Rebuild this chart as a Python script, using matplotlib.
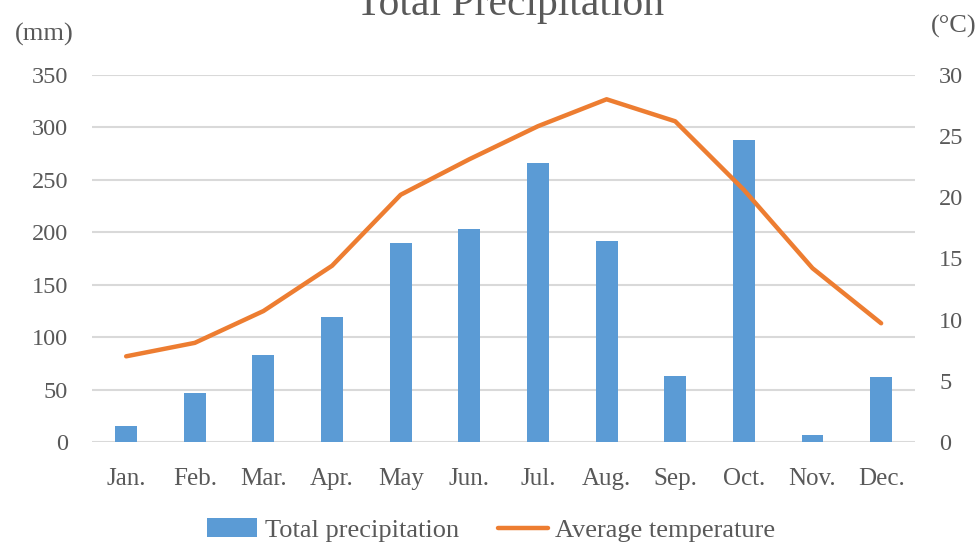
import matplotlib
matplotlib.use("Agg")
import matplotlib.pyplot as plt
import numpy as np

months = ["Jan.", "Feb.", "Mar.", "Apr.", "May", "Jun.", "Jul.", "Aug.", "Sep.", "Oct.", "Nov.", "Dec."]
precip = [15, 47, 83, 119, 190, 203, 266, 192, 63, 288, 7, 62]
temp = [7.0, 8.1, 10.7, 14.4, 20.2, 23.1, 25.8, 28.0, 26.2, 20.6, 14.2, 9.7]
left_ticks = [0, 50, 100, 150, 200, 250, 300, 350]
right_ticks = [0, 5, 10, 15, 20, 25, 30]

plt.rcParams['font.family'] = ['Liberation Serif', 'DejaVu Serif']
TXT = '#595959'
FS = 18

fig = plt.figure(figsize=(9.77, 5.42), dpi=100)
ax = fig.add_axes([0.094, 0.1845, 0.843, 0.6775])
ax2 = ax.twinx()

x = np.arange(len(months))
ax.bar(x, precip, width=0.32, color='#5b9bd5', label='Total precipitation', zorder=3)
ax2.plot(x, temp, color='#ed7d31', lw=3.2, solid_capstyle='round', solid_joinstyle='round',
         label='Average temperature', zorder=4)

ax.set_xlim(-0.5, 11.5)
ax.set_ylim(0, 350)
ax2.set_ylim(0, 30)
ax.set_yticks(left_ticks)
ax2.set_yticks(right_ticks)
ax.set_xticks(x)
ax.set_xticklabels(months)
for a in (ax, ax2):
    for s in a.spines.values():
        s.set_visible(False)
    a.tick_params(length=0, labelsize=FS, colors=TXT)
ax.tick_params(axis='y', labelsize=17.5, pad=17)
ax2.tick_params(axis='y', labelsize=17.5, pad=17)
ax.tick_params(axis='x', pad=19)
ax.yaxis.grid(True, color='#d9d9d9', lw=1.5, zorder=0)
ax.set_axisbelow(True)

ax2.set_zorder(ax.get_zorder() + 1)
ax2.patch.set_visible(False)

fig.text(0.522, 0.972, "Total Precipitation", ha='center', va='baseline', fontsize=30, color=TXT)
fig.text(0.045, 0.937, "(mm)", ha='center', va='center', fontsize=19, color=TXT)
fig.text(0.976, 0.951, "(°C)", ha='center', va='center', fontsize=19, color=TXT)

h1, l1 = ax.get_legend_handles_labels()
h2, l2 = ax2.get_legend_handles_labels()
fig.legend(h1 + h2, l1 + l2, loc='center', bbox_to_anchor=(0.503, 0.022), ncol=2, frameon=False,
           fontsize=19, labelcolor=TXT, handlelength=1.9, handletextpad=0.27, columnspacing=1.5)

fig.savefig("out.png", dpi=100)
